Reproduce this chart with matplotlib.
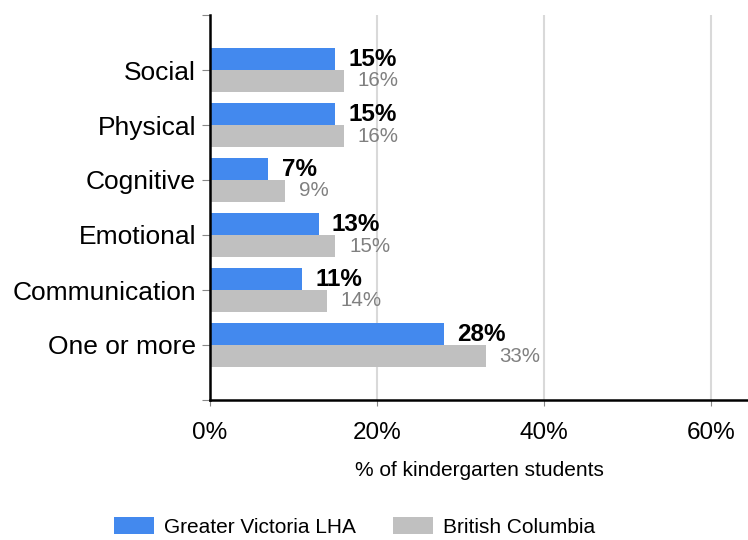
import matplotlib.pyplot as plt
import numpy as np

plt.rcParams['font.family'] = ['Liberation Sans', 'DejaVu Sans']

# Chart data
categories = ['Social', 'Physical', 'Cognitive', 'Emotional', 'Communication', 'One or more']
victoria = [15, 15, 7, 13, 11, 28]
bc = [16, 16, 9, 15, 14, 33]
series_names = ['Greater Victoria LHA', 'British Columbia']
x_ticks = [0, 20, 40, 60]

blue = '#4389ee'
grey = '#c0c0c0'

fig = plt.figure(figsize=(7.48, 5.4), dpi=100)
ax = fig.add_axes([210 / 748, 1 - 400 / 540, 538 / 748, 385 / 540])

pos = np.arange(1, len(categories) + 1)
h = 0.4
b1 = ax.barh(pos - h / 2, victoria, height=h, color=blue, label=series_names[0])
b2 = ax.barh(pos + h / 2, bc, height=h, color=grey, label=series_names[1])

for p, v, g in zip(pos, victoria, bc):
    ax.annotate(f'{v}%', (v, p - h / 2), xytext=(9.5, -0.5), textcoords='offset points',
                va='center', ha='left', fontsize=17.5, fontweight='bold', color='black')
    ax.annotate(f'{g}%', (g, p + h / 2), xytext=(10, 0), textcoords='offset points',
                va='center', ha='left', fontsize=14.8, color='#808080')

ax.set_ylim(7, 0)
ax.set_xlim(0, 64.4)
ax.set_yticks(np.arange(0, 8))
ax.set_yticklabels([''] + categories + [''], fontsize=19)
ax.set_xticks(x_ticks)
ax.set_xticklabels([f'{t}%' for t in x_ticks], fontsize=17.5)
ax.tick_params(axis='y', length=6, color='#888888', pad=4)
ax.tick_params(axis='x', length=4, color='#888888', pad=12)
for lbl in ax.get_yticklabels():
    lbl.set_y(lbl.get_position()[1])

ax.grid(axis='x', color='#d9d9d9', linewidth=1.5)
ax.set_axisbelow(True)
for s in ['top', 'right']:
    ax.spines[s].set_visible(False)
for s in ['left', 'bottom']:
    ax.spines[s].set_linewidth(1.8)
    ax.spines[s].set_color('black')

ax.set_xlabel('% of kindergarten students', fontsize=15, labelpad=12)

fig.legend(handles=[b1, b2], loc='center', bbox_to_anchor=(355 / 748, 1 - 527 / 540),
           ncol=2, frameon=False, fontsize=15, handlelength=1.92, handleheight=0.82,
           columnspacing=1.78, handletextpad=0.48)

fig.savefig('out.png', dpi=100)
